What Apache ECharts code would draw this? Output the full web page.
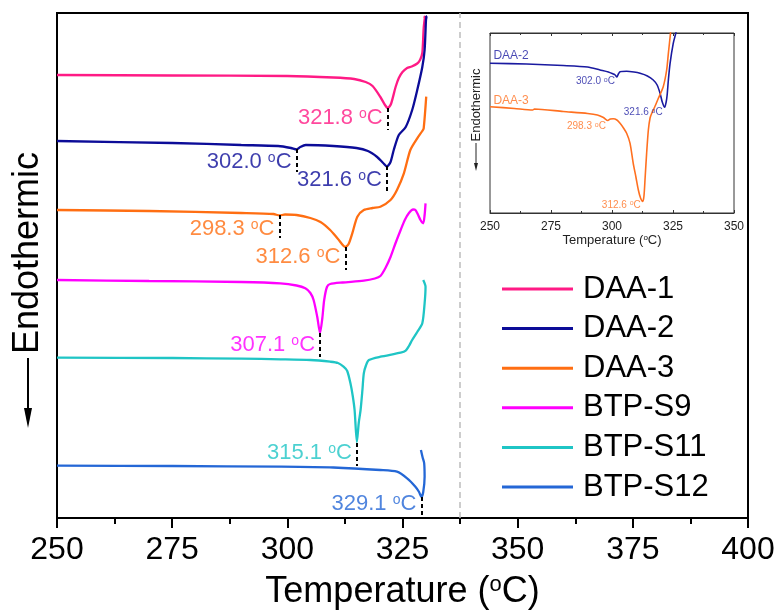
<!DOCTYPE html>
<html><head><meta charset="utf-8">
<script src="https://cdn.jsdelivr.net/npm/echarts@6.0.0/dist/echarts.min.js"></script>
<style>html,body{margin:0;padding:0;background:#fff}#c{width:779px;height:610px}</style>
</head><body><div id="c"></div>
<script>
// ---------- data ----------
const seriesNames = ['DAA-1', 'DAA-2', 'DAA-3', 'BTP-S9', 'BTP-S11', 'BTP-S12'];
const seriesColors = ['#FF1A85', '#0C0C98', '#FF6E12', '#FF00FF', '#1FC5C5', '#2467D6'];

// [temperature (°C), heat flow (a.u., offset per curve)]
const daa1 = [[250,443],[275,442.5],[300,442],[310,440.5],[314.5,439],[317,436],[318.5,432],[320.2,421],[321.2,413],[321.8,410],[322.5,414],[323.5,431],[324.2,440],[325,446],[326,450],[327,451.5],[328.2,454.5],[328.8,458],[329.3,465],[329.6,490],[329.9,502],[329.7,500]];
const daa2 = [[250,377],[275,375],[290,373],[298,372],[300.8,370],[302,368.5],[302.8,371],[304,373],[310,372],[315,370],[317.5,367],[319.5,361],[320.8,355],[321.6,351.5],[322.4,356],[323.1,368],[324.2,383],[325.7,391],[327.1,408],[328.2,428],[329.3,451],[329.8,468],[330.1,498],[330.2,501],[330.0,502]];
const daa3 = [[250,308],[270,307],[290,305],[297,304],[298.3,302.5],[299.5,303.5],[302,303],[305,300],[307.2,296],[309.3,288],[311,279],[312.6,271],[313.3,274],[314.1,284.7],[315.2,301.3],[316.6,308],[318.5,310],[320.2,311.3],[322.4,318],[323.8,328],[325.3,344.7],[326.7,368],[328.2,379.7],[329.3,387],[329.6,389.7],[330.15,421.3]];
const btpS9 = [[250,238],[270,237],[290,236],[298.5,234.7],[302,232.5],[303.9,229.7],[305,225],[305.7,218],[306.5,201],[307.1,185],[307.6,200],[308,218],[308.6,231],[309.3,234],[312,235.5],[316.6,237.3],[319,239.5],[320.2,242],[321.3,250],[322.4,261],[323.5,275],[324.6,288],[325.5,298],[326.4,305],[327.3,308.5],[327.8,308],[328.4,303],[328.9,298],[329.5,294.7],[329.8,303],[330,314.7]];
const btpS11 = [[250,160.3],[275,160],[290,159.3],[298.5,158.7],[305,158],[309.3,156.3],[311,155],[312.2,151.3],[313,147],[313.7,134.7],[314.2,122],[314.6,108],[315.1,76],[315.5,95],[315.9,108],[316.3,128],[316.6,144.7],[317.1,153],[317.7,158],[320.2,161.3],[324.6,165.3],[325.7,167.3],[326.4,172],[327.1,178],[328.2,186],[329.3,194.7],[329.8,214.7],[330,231.3],[329.5,238]];
const btpS12 = [[250,52.3],[275,52],[298.5,51.3],[310,50.5],[320.2,48],[323.8,46.3],[326,39.7],[327.8,31.3],[328.6,26],[329.1,21],[329.5,26],[329.8,41.3],[329.7,55],[329.4,60],[329,68]];
const mainData = [daa1, daa2, daa3, btpS9, btpS11, btpS12];

// peak annotations (main plot)
const annTemps  = [321.8, 302.0, 321.6, 298.3, 312.6, 307.1, 315.1, 329.1];
const annSeries = [0, 1, 1, 2, 2, 3, 4, 5];
const annPeak   = [410, 369, 352, 303, 271, 185, 75, 21];
const annBase   = [388, 346, 326, 280, 248, 161, 52, 0];
const annLabelY = [400, 356, 338, 289, 261, 173, 65, 14];

// inset data
const insetNames = ['DAA-2', 'DAA-3'];
const insetColors = ['#1A1AA0', '#FF7020'];
const insetDaa2 = [[250,149.7],[265,149],[280,147.5],[290,146],[295.1,143],[298.5,141],[300.5,139],[301.3,138],[302.0,136],[302.6,139],[303.3,141.3],[306,141.8],[309,141],[311.5,139.7],[314.5,137],[316.9,133],[318.5,128],[319.7,119.7],[320.6,111],[321.6,105.7],[322.2,111],[322.6,118],[323.1,133],[323.8,149.7],[325.1,169.7],[326.2,180.3],[327,192]];
const insetDaa3 = [[250,106.3],[260,104.5],[267.5,103],[268.2,104],[280,101.5],[290,99.5],[294,98],[296.5,95.5],[298.3,92.5],[299.3,94],[300.5,94.2],[302,93],[303.3,89.7],[304.7,85],[306,79.7],[307.4,69.7],[308.7,49.7],[309.8,36],[310.8,23],[311.7,15],[312.6,11.5],[313.1,17],[313.6,36.3],[314.2,60],[314.9,83],[315.6,95],[316.3,99.7],[317.5,106],[319,114.7],[321,126.3],[322.4,143],[323.1,159.7],[324,180.3],[324.6,195]];
const insetData = [insetDaa2, insetDaa3];
const insetAnnTemps  = [302.0, 321.6, 298.3, 312.6];
const insetAnnSeries = [0, 0, 1, 1];
const insetAnnPeak   = [136, 105.7, 92.5, 11.5];
const insetAnnBase   = [128, 96, 83, 0];
const insetAnnLabelY = [131.3, 100.3, 86.3, 8];
const insetNameLabelPos = [[251.4, 157], [251.4, 112]];

const mainXTicks = {min: 250, max: 400, interval: 25};
const insetXTicks = {min: 250, max: 350, interval: 25};
const separatorTemp = 337.5;

// ---------- chart ----------
const FONT = '"Liberation Sans", Arial, sans-serif';
const chart = echarts.init(document.getElementById('c'), null, {renderer: 'canvas'});
const degLabel = t => '{n|' + t.toFixed(1) + ' }{s|o}{n|C}';

const series = [];
mainData.forEach((d, i) => {
  const ml = [];
  annTemps.forEach((t, k) => {
    if (annSeries[k] === i) ml.push([{coord: [t, annPeak[k]]}, {coord: [t, annBase[k]]}]);
  });
  series.push({
    name: seriesNames[i], type: 'line', xAxisIndex: 0, yAxisIndex: 0,
    data: d, showSymbol: false, symbol: 'none', smooth: 0.25,
    color: seriesColors[i], lineStyle: {width: 2.3, color: seriesColors[i]},
    z: 3,
    markLine: {silent: true, symbol: ['none', 'none'], label: {show: false},
      lineStyle: {color: '#000', type: [4, 3], width: 2}, data: ml, animation: false}
  });
});
// gray separator
series.push({type: 'line', xAxisIndex: 0, yAxisIndex: 0, data: [], markLine: {
  silent: true, symbol: ['none', 'none'], label: {show: false},
  lineStyle: {color: '#BDBDBD', type: [6, 4], width: 1.5}, data: [{xAxis: separatorTemp}], animation: false}});
// peak labels
series.push({type: 'scatter', xAxisIndex: 0, yAxisIndex: 0, symbolSize: 0, silent: true, z: 5,
  data: annTemps.map((t, k) => ({value: [t, annLabelY[k]], label: {color: seriesColors[annSeries[k]]}})),
  label: {show: true, position: 'left', distance: 5, fontFamily: FONT, fontSize: 22,
    formatter: p => degLabel(annTemps[p.dataIndex]),
    rich: {n: {fontSize: 22, fontFamily: FONT}, s: {fontSize: 14, fontFamily: FONT, verticalAlign: 'top', lineHeight: 14}}}
});
// inset curves
insetData.forEach((d, i) => {
  const ml = [];
  insetAnnTemps.forEach((t, k) => {
    if (insetAnnSeries[k] === i) ml.push([{coord: [t, insetAnnPeak[k]]}, {coord: [t, insetAnnBase[k]]}]);
  });
  series.push({
    name: insetNames[i] + ' (inset)', type: 'line', xAxisIndex: 1, yAxisIndex: 1,
    data: d, showSymbol: false, symbol: 'none', smooth: 0.25, clip: true,
    lineStyle: {width: 1.6, color: insetColors[i]}, z: 12,
    markLine: {silent: true, symbol: ['none', 'none'], label: {show: false},
      lineStyle: {color: '#000', type: [2, 2], width: 1}, data: ml, animation: false}
  });
});
series.push({type: 'scatter', xAxisIndex: 1, yAxisIndex: 1, symbolSize: 0, silent: true, z: 13,
  data: insetAnnTemps.map((t, k) => ({value: [t, insetAnnLabelY[k]], label: {color: insetColors[insetAnnSeries[k]]}})),
  label: {show: true, position: 'left', distance: 2, fontFamily: FONT, fontSize: 10,
    formatter: p => '{n|' + insetAnnTemps[p.dataIndex].toFixed(1) + ' }{s|o}{n|C}',
    rich: {n: {fontSize: 10, fontFamily: FONT}, s: {fontSize: 7, fontFamily: FONT, verticalAlign: 'top', lineHeight: 7}}}
});
series.push({type: 'scatter', xAxisIndex: 1, yAxisIndex: 1, symbolSize: 0, silent: true, z: 13,
  data: insetNameLabelPos.map((p, i) => ({value: p, label: {color: insetColors[i]}, name: insetNames[i]})),
  label: {show: true, position: 'right', distance: 0, fontFamily: FONT, fontSize: 12, formatter: p => p.name}
});

const titleRich = fs => ({n: {fontSize: fs, fontFamily: FONT, color: '#000'},
  s: {fontSize: Math.round(fs * 0.62), fontFamily: FONT, color: '#000', verticalAlign: 'top', lineHeight: Math.round(fs * 0.62)}});

chart.setOption({
  animation: false,
  backgroundColor: '#fff',
  textStyle: {fontFamily: FONT},
  grid: [
    {left: 57, top: 13, width: 691, height: 505, show: true, borderColor: '#000', borderWidth: 2, backgroundColor: 'transparent', outerBoundsMode: 'none', containLabel: false},
    {left: 490, top: 33, width: 244, height: 180, show: true, borderColor: '#333', borderWidth: 1, backgroundColor: '#fff', z: 10, outerBoundsMode: 'none', containLabel: false}
  ],
  xAxis: [
    {gridIndex: 0, type: 'value', min: mainXTicks.min, max: mainXTicks.max, interval: mainXTicks.interval,
      axisLine: {show: true, lineStyle: {color: '#000', width: 2}},
      axisTick: {show: true, inside: false, length: 10, lineStyle: {color: '#000', width: 2}},
      minorTick: {show: true, splitNumber: 2, length: 6, lineStyle: {color: '#000', width: 2}},
      splitLine: {show: false}, minorSplitLine: {show: false},
      axisLabel: {color: '#000', fontSize: 32, margin: 16, fontFamily: FONT},
      name: 'Temperature ({s|o}C)', nameLocation: 'middle', nameGap: 56,
      nameTextStyle: {fontSize: 36, color: '#000', fontFamily: FONT, rich: titleRich(36)}},
    {gridIndex: 1, type: 'value', min: insetXTicks.min, max: insetXTicks.max, interval: insetXTicks.interval, z: 11,
      axisLine: {show: true, lineStyle: {color: '#333', width: 1}},
      axisTick: {show: true, inside: true, length: 3, lineStyle: {color: '#333'}},
      minorTick: {show: true, splitNumber: 2, length: 2, lineStyle: {color: '#333'}},
      splitLine: {show: false}, minorSplitLine: {show: false},
      axisLabel: {color: '#222', fontSize: 12, margin: 8, fontFamily: FONT},
      name: 'Temperature ({s|o}C)', nameLocation: 'middle', nameGap: 19,
      nameTextStyle: {fontSize: 13, color: '#222', fontFamily: FONT, rich: titleRich(13)}},
    {gridIndex: 1, type: 'value', position: 'top', min: insetXTicks.min, max: insetXTicks.max, interval: insetXTicks.interval, z: 11,
      axisLine: {show: true, lineStyle: {color: '#333', width: 1}},
      axisTick: {show: true, inside: true, length: 3, lineStyle: {color: '#333'}},
      minorTick: {show: true, splitNumber: 2, length: 2, lineStyle: {color: '#333'}},
      splitLine: {show: false}, axisLabel: {show: false}}
  ],
  yAxis: [
    {gridIndex: 0, type: 'value', min: 0, max: 505, show: false},
    {gridIndex: 1, type: 'value', min: 0, max: 180, show: false}
  ],
  legend: {
    data: seriesNames, orient: 'vertical', left: 497, top: 268,
    itemWidth: 71, itemHeight: 3, itemGap: 7.6, icon: 'rect',
    textStyle: {fontSize: 31, lineHeight: 32, color: '#000', fontFamily: FONT, padding: [0, 0, 0, 5]}
  },
  graphic: [
    {type: 'text', x: 28, y: 253, rotation: Math.PI / 2, silent: true,
      style: {text: 'Endothermic', fontSize: 36, fontFamily: FONT, fill: '#000', align: 'center', verticalAlign: 'middle'}},
    {type: 'line', silent: true, shape: {x1: 28, y1: 358, x2: 28, y2: 418}, style: {stroke: '#000', lineWidth: 2}},
    {type: 'polygon', silent: true, shape: {points: [[24, 408], [32, 408], [28, 428]]}, style: {fill: '#000'}},
    {type: 'text', x: 476, y: 105, rotation: Math.PI / 2, silent: true, z: 20,
      style: {text: 'Endothermic', fontSize: 13, fontFamily: FONT, fill: '#222', align: 'center', verticalAlign: 'middle'}},
    {type: 'line', silent: true, z: 20, shape: {x1: 476, y1: 143, x2: 476, y2: 166}, style: {stroke: '#222', lineWidth: 1}},
    {type: 'polygon', silent: true, z: 20, shape: {points: [[474, 163], [478, 163], [476, 171]]}, style: {fill: '#222'}}
  ],
  series: series
});
</script></body></html>
